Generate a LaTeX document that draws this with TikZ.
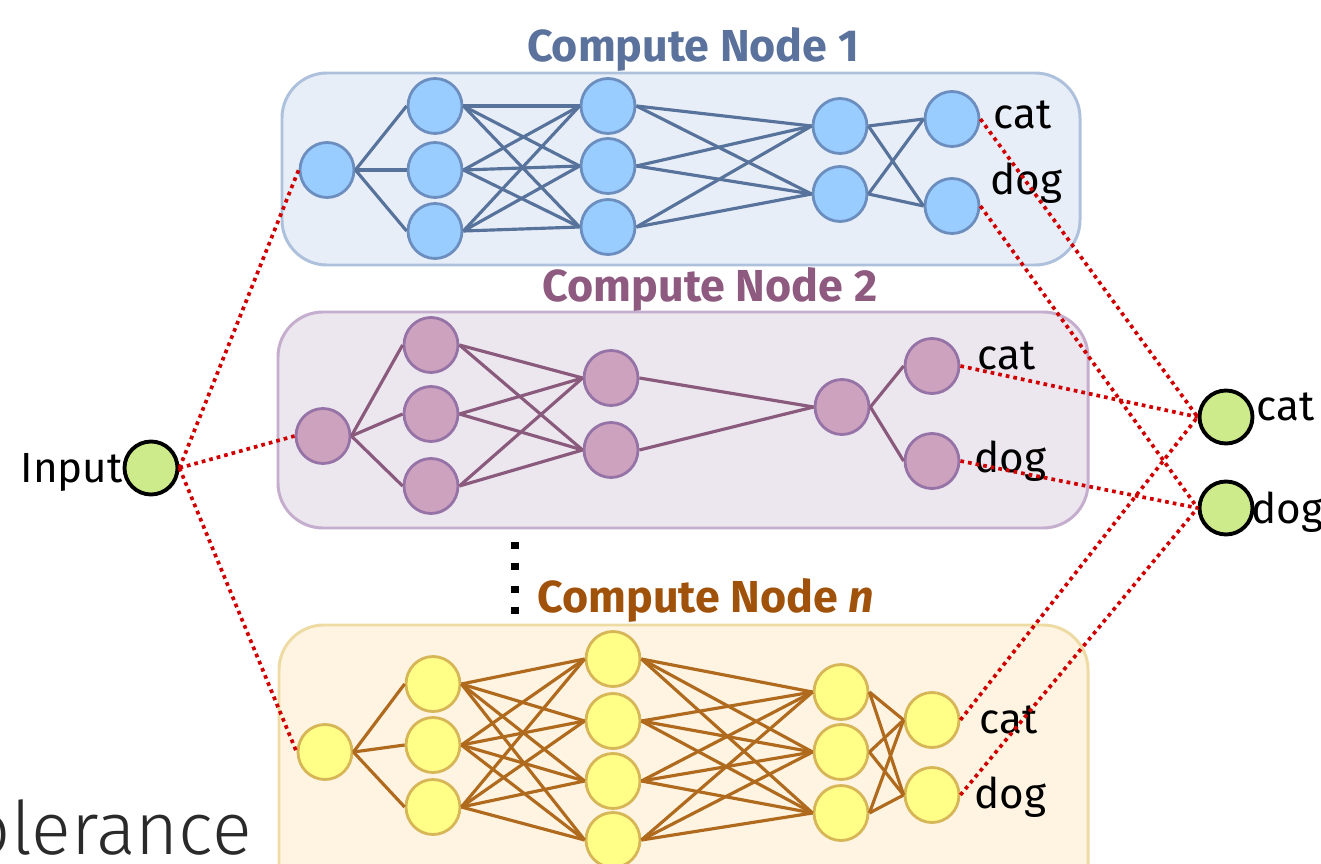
\documentclass[tikz,border=0pt]{standalone}
\usepackage{fontspec}
\setmainfont{Fira Sans}
\newfontfamily\lightfont{Fira Sans Light}
\usetikzlibrary{shapes.geometric}
\definecolor{boxAfill}{HTML}{E8EEF8}
\definecolor{boxAdraw}{HTML}{ADC1DD}
\definecolor{cirAfill}{HTML}{99CCFF}
\definecolor{cirAdraw}{HTML}{6C8EBF}
\definecolor{lineA}{HTML}{58739B}
\definecolor{titleA}{HTML}{5A729C}
\definecolor{boxBfill}{HTML}{ECE6EF}
\definecolor{boxBdraw}{HTML}{C4ADCD}
\definecolor{cirBfill}{HTML}{CDA2BE}
\definecolor{cirBdraw}{HTML}{9673A6}
\definecolor{lineB}{HTML}{8A5A7D}
\definecolor{titleB}{HTML}{8E5A7F}
\definecolor{boxCfill}{HTML}{FEF4E1}
\definecolor{boxCdraw}{HTML}{EEDBA4}
\definecolor{cirCfill}{HTML}{FFFF88}
\definecolor{cirCdraw}{HTML}{D6B656}
\definecolor{lineC}{HTML}{B06A1E}
\definecolor{titleC}{HTML}{A0520A}
\definecolor{greenfill}{HTML}{CDEB8B}
\definecolor{redc}{HTML}{D00000}
\definecolor{olc}{HTML}{2A2A2A}
\begin{document}
\begin{tikzpicture}[x=0.02cm,y=-0.02cm,
  nn/.style={ellipse,inner sep=0pt,minimum width=1.08cm,minimum height=1.1cm,line width=1.6pt},
  na/.style={nn,fill=cirAfill,draw=cirAdraw},
  nb/.style={nn,fill=cirBfill,draw=cirBdraw},
  nc/.style={nn,fill=cirCfill,draw=cirCdraw},
  ng/.style={circle,inner sep=0pt,minimum size=1.06cm,line width=2.2pt,fill=greenfill,draw=black},
  ea/.style={line width=1.8pt,draw=lineA},
  eb/.style={line width=1.8pt,draw=lineB},
  ec/.style={line width=1.8pt,draw=lineC},
  boxsty/.style={line width=1.7pt,rounded corners=0.9cm},
  reddot/.style={draw=redc,line width=2.1pt,dash pattern=on 2.1pt off 2.3pt},
  lbl/.style={font=\fontsize{24}{28}\selectfont,inner sep=0pt,anchor=base west},
  ttl/.style={font=\fontsize{25.5}{30}\selectfont\bfseries,inner sep=0pt,anchor=base},
]
\useasboundingbox (0,0) rectangle (1321,864);

% boxes
\draw[boxsty,fill=boxAfill,draw=boxAdraw] (282,73) rectangle (1080,265);
\draw[boxsty,fill=boxBfill,draw=boxBdraw] (278,312) rectangle (1088,528);
\draw[boxsty,fill=boxCfill,draw=boxCdraw] (279,625) rectangle (1088,920);

% titles
\node[ttl,text=titleA] (t1) at (693,62) {Compute Node 1};
\node[ttl,text=titleB] (t2) at (710,302) {Compute Node 2};
\node[ttl,text=titleC] (t3) at (706,612) {Compute Node \textit{n}};

% vertical dots
\foreach \y in {545,566,589,610} \fill[black] (511,\y-3.5) rectangle (519,\y+3.5);

% ---- Box A ----
\node[na] (a-0-1) at (327,170) {};
\foreach \y [count=\i] in {106,170,231} \node[na] (a-1-\i) at (435,\y) {};
\foreach \y [count=\i] in {106,166,227} \node[na] (a-2-\i) at (608,\y) {};
\foreach \y [count=\i] in {126,194} \node[na] (a-3-\i) at (840,\y) {};
\foreach \y [count=\i] in {119,206} \node[na] (a-4-\i) at (952,\y) {};
\foreach \j in {1,2,3} \draw[ea] (a-0-1.east) -- (a-1-\j.west);
\foreach \i in {1,2,3} \foreach \j in {1,2,3} \draw[ea] (a-1-\i.east) -- (a-2-\j.west);
\foreach \i in {1,2,3} \foreach \j in {1,2} \draw[ea] (a-2-\i.east) -- (a-3-\j.west);
\foreach \i in {1,2} \foreach \j in {1,2} \draw[ea] (a-3-\i.east) -- (a-4-\j.west);
\node[lbl] (acat) at (993,129) {cat};
\node[lbl] (adog) at (990,195) {dog};

% ---- Box B ----
\node[nb] (b-0-1) at (323,436) {};
\foreach \y [count=\i] in {345,414,486} \node[nb] (b-1-\i) at (431,\y) {};
\foreach \y [count=\i] in {378,450} \node[nb] (b-2-\i) at (611,\y) {};
\node[nb] (b-3-1) at (842,407) {};
\foreach \y [count=\i] in {366,461} \node[nb] (b-4-\i) at (932,\y) {};
\foreach \j in {1,2,3} \draw[eb] (b-0-1.east) -- (b-1-\j.west);
\foreach \i in {1,2,3} \foreach \j in {1,2} \draw[eb] (b-1-\i.east) -- (b-2-\j.west);
\foreach \i in {1,2} \draw[eb] (b-2-\i.east) -- (b-3-1.west);
\foreach \j in {1,2} \draw[eb] (b-3-1.east) -- (b-4-\j.west);
\node[lbl] (bcat) at (977,370) {cat};
\node[lbl] (bdog) at (974,472) {dog};

% ---- Box C ----
\node[nc] (c-0-1) at (325,752) {};
\foreach \y [count=\i] in {684,745,807} \node[nc] (c-1-\i) at (433,\y) {};
\foreach \y [count=\i] in {659,721,781,840} \node[nc] (c-2-\i) at (613,\y) {};
\foreach \y [count=\i] in {692,752,813} \node[nc] (c-3-\i) at (841,\y) {};
\foreach \y [count=\i] in {720,795} \node[nc] (c-4-\i) at (932,\y) {};
\foreach \j in {1,2,3} \draw[ec] (c-0-1.east) -- (c-1-\j.west);
\foreach \i in {1,2,3} \foreach \j in {1,2,3,4} \draw[ec] (c-1-\i.east) -- (c-2-\j.west);
\foreach \i in {1,2,3,4} \foreach \j in {1,2,3} \draw[ec] (c-2-\i.east) -- (c-3-\j.west);
\foreach \i in {1,2,3} \foreach \j in {1,2} \draw[ec] (c-3-\i.east) -- (c-4-\j.west);
\node[lbl] (ccat) at (979,733) {cat};
\node[lbl] (cdog) at (974,808) {dog};

% ---- input / outputs ----
\node[ng] (in) at (151,468) {};
\node[lbl,anchor=base east] (inlbl) at (123,482) {Input};
\node[ng] (ocat) at (1226,417) {};
\node[ng] (odog) at (1226,508) {};
\node[lbl] (ocatl) at (1256,420) {cat};
\node[lbl] (odogl) at (1251,523) {dog};

% red dotted connectors
\draw[reddot] (in.east) -- (a-0-1.west);
\draw[reddot] (in.east) -- (b-0-1.west);
\draw[reddot] (in.east) -- (c-0-1.west);
\draw[reddot] (a-4-1.east) -- (ocat.west);
\draw[reddot] (a-4-2.east) -- (odog.west);
\draw[reddot] (b-4-1.east) -- (ocat.west);
\draw[reddot] (b-4-2.east) -- (odog.west);
\draw[reddot] (c-4-1.east) -- (ocat.west);
\draw[reddot] (c-4-2.east) -- (odog.west);

% partial text at bottom left
\node[font=\lightfont\fontsize{42}{50}\selectfont,text=olc,anchor=base east,inner sep=0pt] (tol) at (252,854) {olerance};
\end{tikzpicture}
\end{document}
